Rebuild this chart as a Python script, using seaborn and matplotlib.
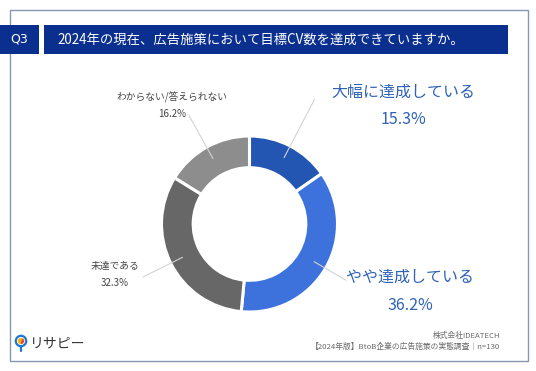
import numpy as np
import matplotlib
matplotlib.use("Agg")
import matplotlib.pyplot as plt
import matplotlib.patches as mpatches
import seaborn as sns

# data
labels = ["大幅に達成している", "やや達成している", "未達である", "わからない/答えられない"]
values = [15.3, 36.2, 32.3, 16.2]
colors = ["#2356b3", "#3d72dc", "#676767", "#8d8d8d"]
title = "2024年の現在、広告施策において目標CV数を達成できていますか。"
question = "Q3"
company = "株式会社IDEATECH"
source = "【2024年版】BtoB企業の広告施策の実態調査｜n=130"

sns.set_theme(style="white")
plt.rcParams["font.family"] = ["Noto Sans CJK JP", "DejaVu Sans"]

W, H = 536, 371
fig = plt.figure(figsize=(W / 100, H / 100), dpi=100)
fig.patch.set_facecolor("white")

# background overlay in pixel coords
bg = fig.add_axes([0, 0, 1, 1])
bg.set_xlim(0, W)
bg.set_ylim(H, 0)
bg.axis("off")

navy = "#0b2f8e"
bg.add_patch(mpatches.Rectangle((10, 10), 518, 351, fill=False, edgecolor="#8796b0", lw=1.0))
bg.add_patch(mpatches.Rectangle((0, 25), 39, 29, facecolor=navy, edgecolor="none"))
bg.add_patch(mpatches.Rectangle((44, 25), 464, 29, facecolor=navy, edgecolor="none"))
bg.text(19.5, 39.5, question, color="white", fontsize=9, ha="center", va="center", family=["DejaVu Sans"])
bg.text(57, 39.5, title, color="white", fontsize=9.6, ha="left", va="center")

# footer
bg.text(500, 336, company, color="#6a6a6a", fontsize=5.6, ha="right", va="center")
bg.text(500, 347, source, color="#6a6a6a", fontsize=5.6, ha="right", va="center")
bg.add_patch(mpatches.Circle((21, 341), 5.2, facecolor="white", edgecolor="#1f78d1", lw=1.6))
bg.add_patch(mpatches.Wedge((21, 341), 3.2, 90, 300, facecolor="#f2b705", edgecolor="none"))
bg.add_patch(mpatches.Wedge((21, 341), 3.2, 300, 450, facecolor="#e84a3c", edgecolor="none"))
bg.plot([21, 21], [346.5, 351], color="#1f78d1", lw=1.6, solid_capstyle="round")
bg.text(30, 343, "リサピー", color="#333333", fontsize=10, ha="left", va="center")

# donut
cx, cy, R = 249.5, 224, 88
half = 100
ax = fig.add_axes([(cx - half) / W, 1 - (cy + half) / H, 2 * half / W, 2 * half / H])

wedges, _ = ax.pie(values, colors=colors, startangle=90, counterclock=False, radius=1.0,
                   wedgeprops=dict(width=0.36, edgecolor="white", linewidth=2.2))
lim = half / R
ax.set_xlim(-lim, lim)
ax.set_ylim(-lim, lim)
ax.axis("off")

# leader lines
line_end = [1.6, 1.27, 1.35, 1.42]
for w, r_end in zip(wedges, line_end):
    mid = np.deg2rad((w.theta1 + w.theta2) / 2)
    ax.plot([0.85 * np.cos(mid), r_end * np.cos(mid)],
            [0.85 * np.sin(mid), r_end * np.sin(mid)],
            color="#d3d3d3", lw=0.8, zorder=5, clip_on=False)

# labels
blue_txt = "#2f62b8"
grey_txt = "#444444"
label_pos = [(403, 92, 119, 11.5, blue_txt),
             (410, 277, 305, 11.5, blue_txt),
             (115, 266, 283, 7, grey_txt),
             (172, 97, 114, 7, grey_txt)]
for lab, v, (x, y1, y2, fs, c) in zip(labels, values, label_pos):
    bg.text(x, y1, lab, color=c, fontsize=fs, ha="center", va="center")
    bg.text(x, y2, f"{v:.1f}%", color=c, fontsize=fs, ha="center", va="center")

fig.savefig("out.png", dpi=100)
